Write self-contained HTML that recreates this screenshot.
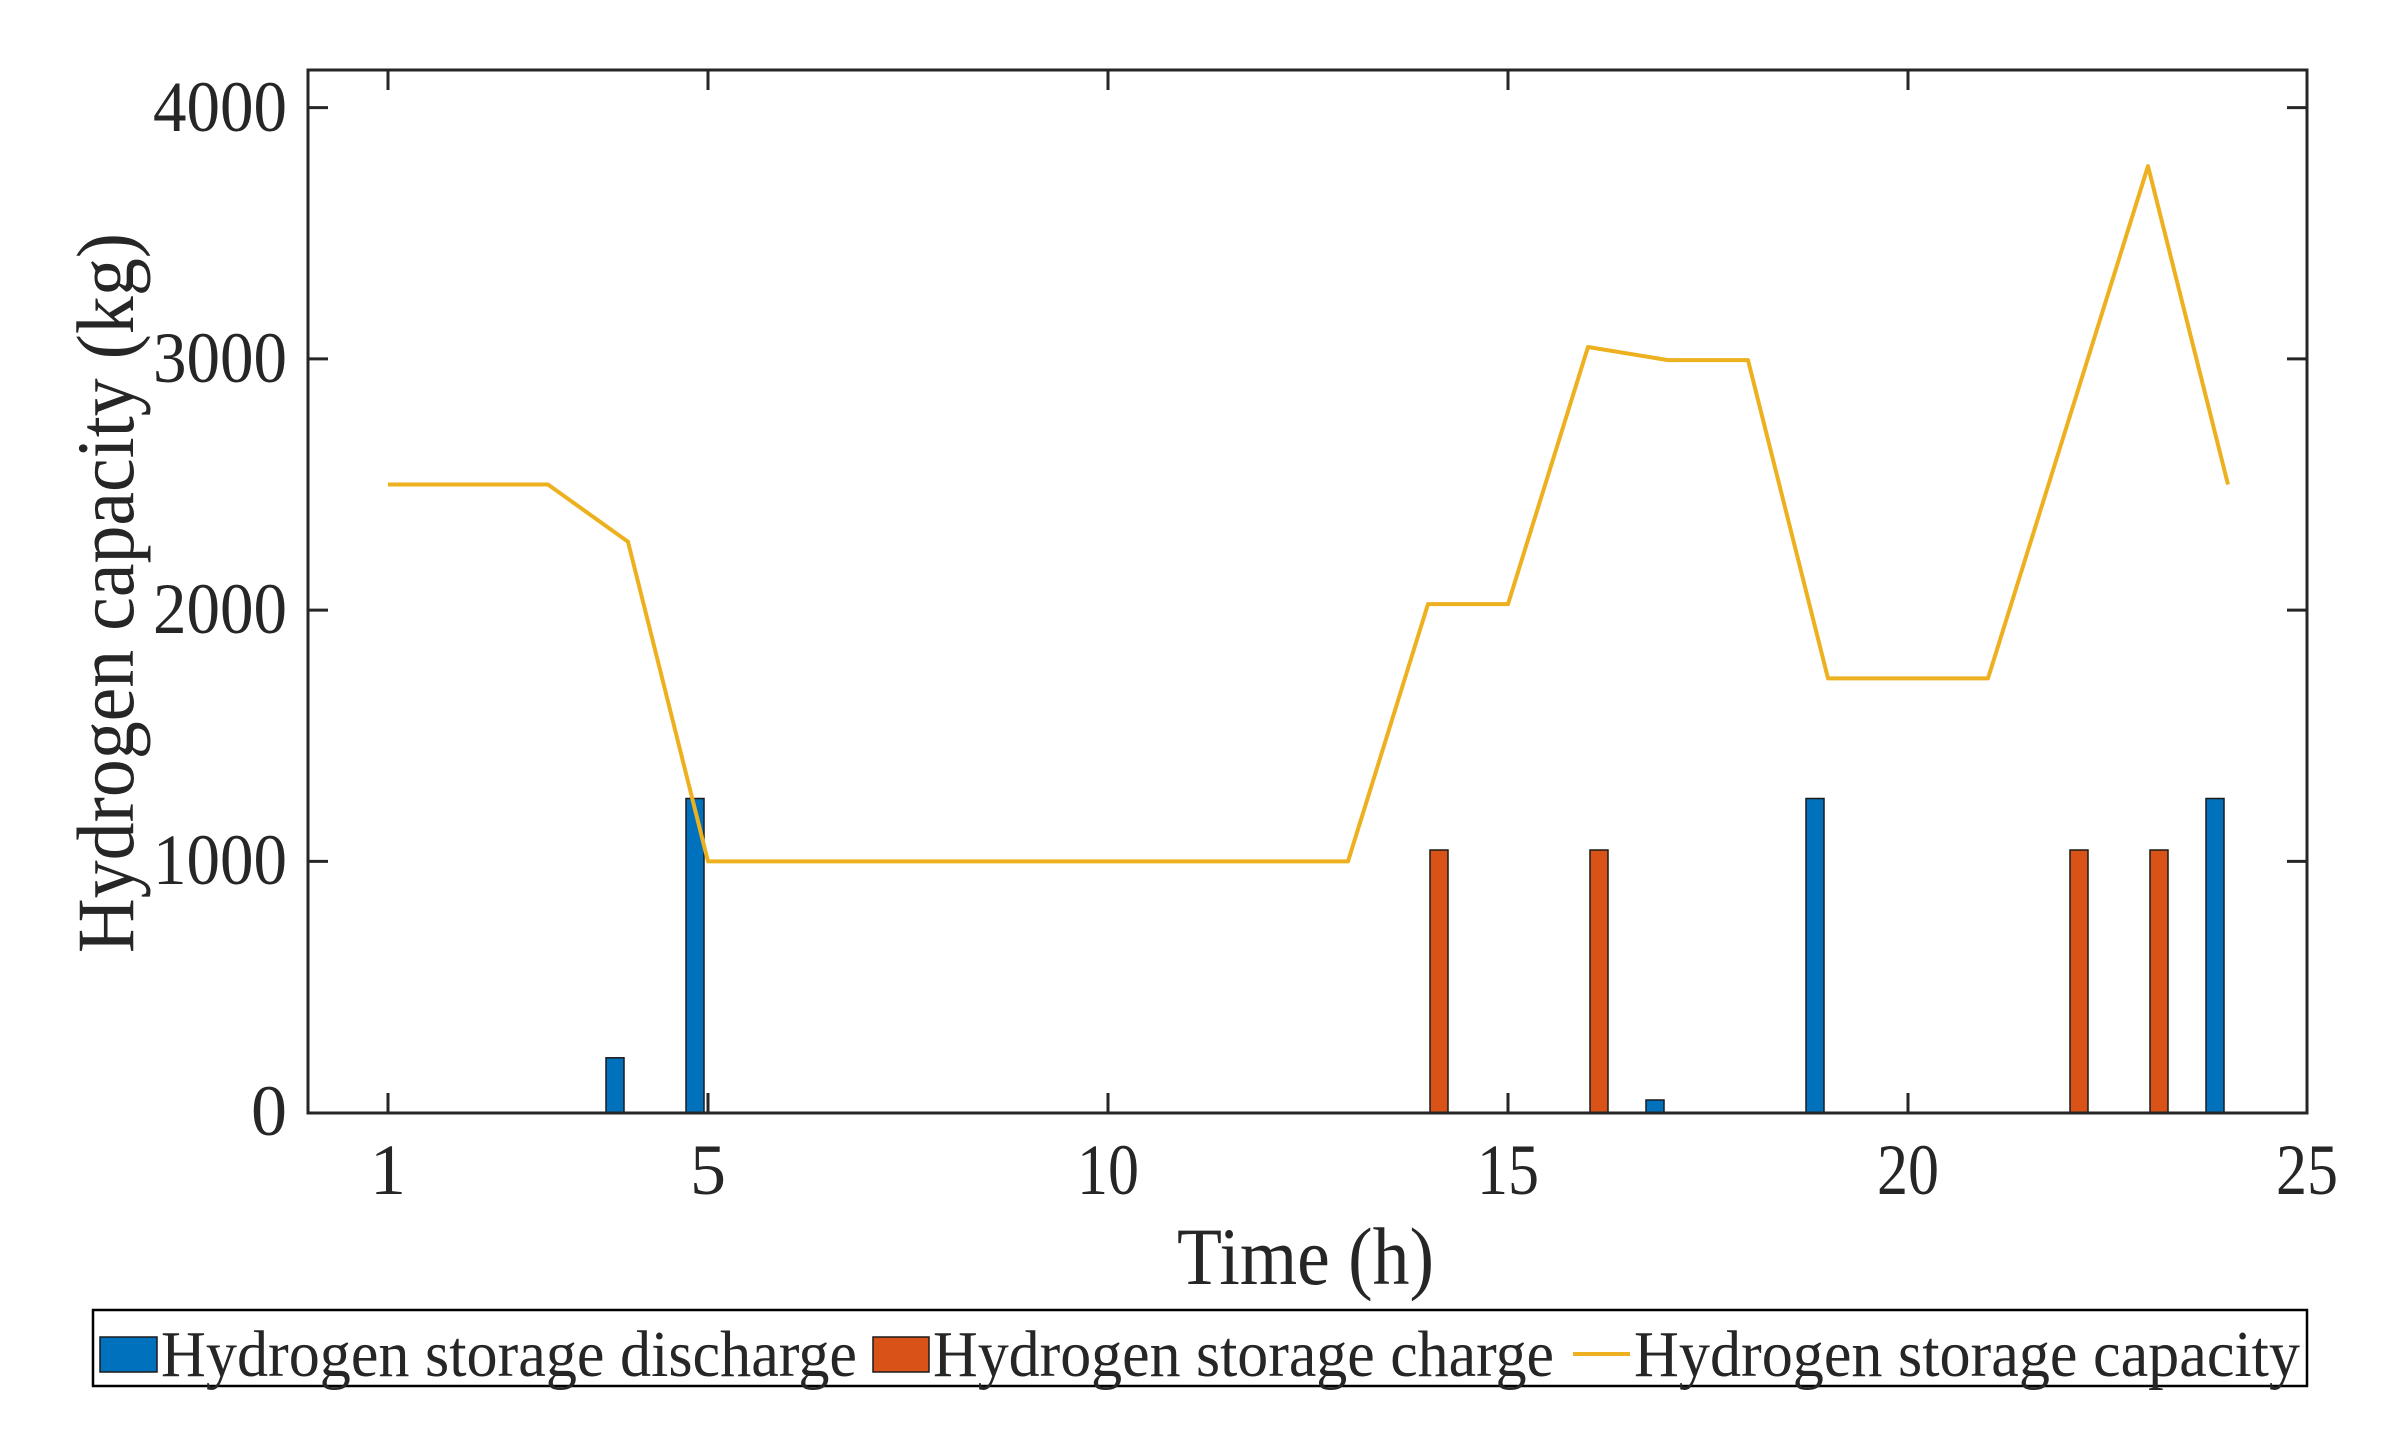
<!DOCTYPE html>
<html><head><meta charset="utf-8"><style>
html,body{margin:0;padding:0;background:#fff;}
svg{display:block;}
text{font-family:"Liberation Serif","Times New Roman",serif;fill:#262626;}
</style></head><body>
<svg width="2382" height="1430" viewBox="0 0 2382 1430" xmlns="http://www.w3.org/2000/svg">
<rect width="2382" height="1430" fill="#fff"/>
<g stroke="#1a1a1a" stroke-width="1.5">
<rect x="606" y="1057.8" width="18" height="54.8" fill="#0072BD"/>
<rect x="686" y="798.5" width="18" height="314.1" fill="#0072BD"/>
<rect x="1646" y="1100" width="18" height="12.6" fill="#0072BD"/>
<rect x="1806" y="798.5" width="18" height="314.1" fill="#0072BD"/>
<rect x="2206" y="798.5" width="18" height="314.1" fill="#0072BD"/>
<rect x="1430" y="850" width="18" height="262.6" fill="#D95319"/>
<rect x="1590" y="850" width="18" height="262.6" fill="#D95319"/>
<rect x="2070" y="850" width="18" height="262.6" fill="#D95319"/>
<rect x="2150" y="850" width="18" height="262.6" fill="#D95319"/>
</g>
<polyline fill="none" stroke="#EDB120" stroke-width="4" stroke-linejoin="round"
points="388,484.5 468,484.5 548,484.5 628,541.8 708,861.4 788,861.4 868,861.4 948,861.4 1028,861.4 1108,861.4 1188,861.4 1268,861.4 1348,861.4 1428,604.1 1508,604.1 1588,347 1668,360.1 1748,360.1 1828,678.4 1908,678.4 1988,678.4 2068,422.2 2148,166.1 2228,484.5"/>
<rect x="308" y="70" width="1999" height="1043" fill="none" stroke="#262626" stroke-width="3"/>
<g stroke="#262626" stroke-width="3">
<line x1="388" y1="1113" x2="388" y2="1093"/><line x1="388" y1="70" x2="388" y2="90"/>
<line x1="708" y1="1113" x2="708" y2="1093"/><line x1="708" y1="70" x2="708" y2="90"/>
<line x1="1108" y1="1113" x2="1108" y2="1093"/><line x1="1108" y1="70" x2="1108" y2="90"/>
<line x1="1508" y1="1113" x2="1508" y2="1093"/><line x1="1508" y1="70" x2="1508" y2="90"/>
<line x1="1908" y1="1113" x2="1908" y2="1093"/><line x1="1908" y1="70" x2="1908" y2="90"/>
<line x1="308" y1="861.4" x2="328" y2="861.4"/><line x1="2307" y1="861.4" x2="2287" y2="861.4"/>
<line x1="308" y1="610.1" x2="328" y2="610.1"/><line x1="2307" y1="610.1" x2="2287" y2="610.1"/>
<line x1="308" y1="358.9" x2="328" y2="358.9"/><line x1="2307" y1="358.9" x2="2287" y2="358.9"/>
<line x1="308" y1="107.6" x2="328" y2="107.6"/><line x1="2307" y1="107.6" x2="2287" y2="107.6"/>
</g>
<g font-size="72" text-anchor="middle">
<text x="388" y="1194">1</text>
<text x="708" y="1194">5</text>
<text x="1108" y="1194" textLength="62" lengthAdjust="spacingAndGlyphs">10</text>
<text x="1508" y="1194" textLength="62" lengthAdjust="spacingAndGlyphs">15</text>
<text x="1908" y="1194" textLength="62" lengthAdjust="spacingAndGlyphs">20</text>
<text x="2307" y="1194" textLength="62" lengthAdjust="spacingAndGlyphs">25</text>
</g>
<g font-size="72" text-anchor="end">
<text x="287" y="1135">0</text>
<text x="287" y="884" textLength="134" lengthAdjust="spacingAndGlyphs">1000</text>
<text x="287" y="633" textLength="134" lengthAdjust="spacingAndGlyphs">2000</text>
<text x="287" y="382" textLength="134" lengthAdjust="spacingAndGlyphs">3000</text>
<text x="287" y="131" textLength="134" lengthAdjust="spacingAndGlyphs">4000</text>
</g>
<text x="1177" y="1284" font-size="82" textLength="257" lengthAdjust="spacingAndGlyphs">Time (h)</text>
<text transform="translate(133,953) rotate(-90)" font-size="82" textLength="720" lengthAdjust="spacingAndGlyphs">Hydrogen capacity (kg)</text>
<rect x="93" y="1310" width="2214" height="76" fill="#fff" stroke="#000" stroke-width="2.5"/>
<rect x="100" y="1337" width="57" height="35" fill="#0072BD" stroke="#1a1a1a" stroke-width="1.5"/>
<text x="161" y="1376" font-size="66" fill="#000" textLength="696" lengthAdjust="spacingAndGlyphs">Hydrogen storage discharge</text>
<rect x="873" y="1337" width="56" height="35" fill="#D95319" stroke="#1a1a1a" stroke-width="1.5"/>
<text x="933" y="1376" font-size="66" fill="#000" textLength="621" lengthAdjust="spacingAndGlyphs">Hydrogen storage charge</text>
<line x1="1573" y1="1354" x2="1630" y2="1354" stroke="#EDB120" stroke-width="4"/>
<text x="1634" y="1376" font-size="66" fill="#000" textLength="666" lengthAdjust="spacingAndGlyphs">Hydrogen storage capacity</text>
</svg>
</body></html>
